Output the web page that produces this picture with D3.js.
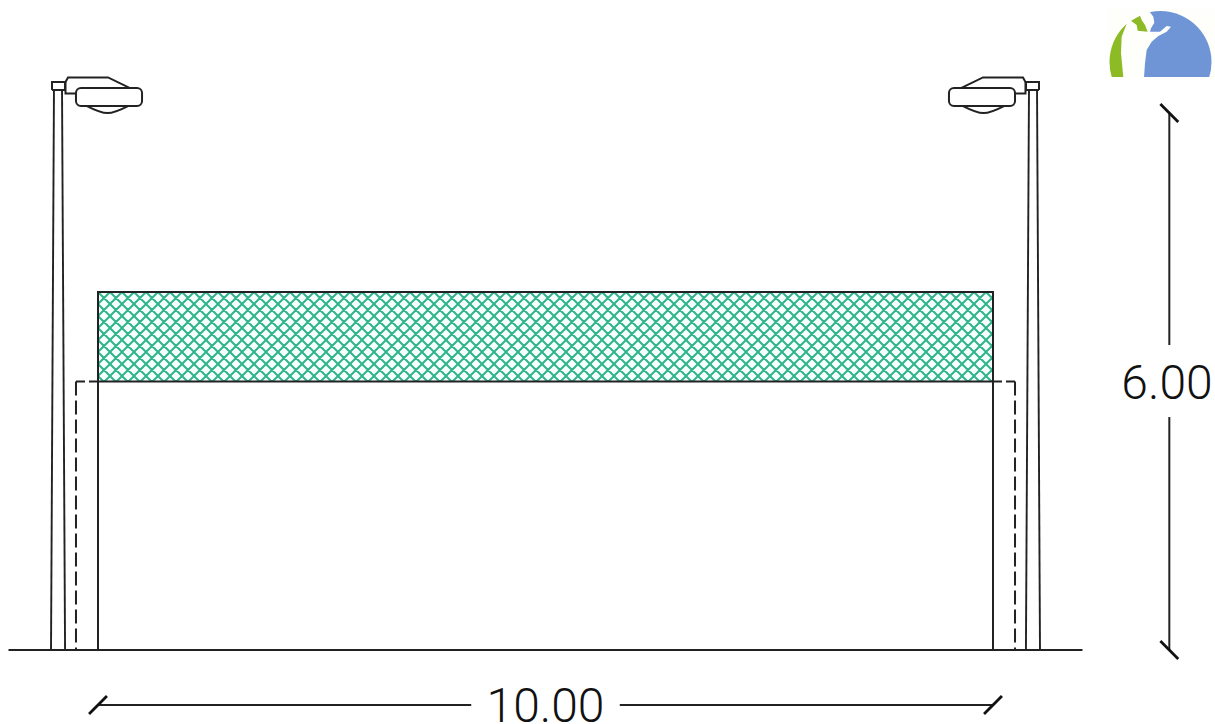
<!DOCTYPE html>
<html>
<head>
<meta charset="utf-8">
<script src="https://cdn.jsdelivr.net/npm/d3@7"></script>
<style>
  html, body { margin: 0; padding: 0; background: #fff; }
  svg { display: block; }
  text { font-family: Roboto, "Liberation Sans", sans-serif; font-weight: 300; fill: #111; }
</style>
</head>
<body>
<div id="chart"></div>
<script>
// everything below is in metres, x from the left fence post, y from the ground
const spanLabel = "10.00";
const heightLabel = "6.00";
const spanEnds = [0, 10];
const heightEnds = [0, 6];
const groundLine = [[-1.0, 0], [11.0, 0]];
const fenceBox = [[0, 0], [0, 4], [10, 4], [10, 0]];
const hatchBox = [[0, 3], [10, 3], [10, 4], [0, 4]];
const dashedTop = [[-0.246, 3], [0, 3]];
const dashedSide = [[-0.246, 3], [-0.246, 0]];
const poleOuter = [[-0.525, 0], [-0.492, 6.257]];
const poleInner = [[-0.368, 0], [-0.402, 6.257]];
const bracket = [[-0.514, 6.257], [-0.514, 6.346], [-0.369, 6.346], [-0.369, 6.257], [-0.514, 6.257]];
const housing = [[-0.363, 6.346], [-0.335, 6.397], [0.112, 6.397], [0.358, 6.279]];
const housingLow = [[-0.363, 6.346], [-0.363, 6.218], [-0.235, 6.218]];
const lens = [[-0.246, 6.279], [0.492, 6.078]];
const lensBelly = [[-0.123, 6.078], [0.106, 6.0], [0.335, 6.078]];
const spanGap = [4.17, 5.83];
const heightGap = [2.603, 3.408];
const spanLevel = -0.615;
const heightLevel = 11.97;

const logoBlueEdge = [[160, 30], [175, 50], [178, 68], [168, 85], [165, 95], [195, 95], [215, 78], [228, 80], [215, 95], [190, 108], [170, 125], [155, 150], [150, 190], [147, 232], [360, 232], [360, 30]];
const logoGreenEdge = [[95, 72], [80, 110], [78, 160], [85, 232], [30, 232], [30, 72]];
const logoGreenBit = [[108, 62], [135, 47], [140, 60], [150, 75], [158, 95], [128, 92], [125, 75]];

const width = 1215, height = 724;
const x = d3.scaleLinear().domain([0, 10]).range([98, 993]);
const y = d3.scaleLinear().domain([0, 6]).range([650, 113]);
const logoX = d3.scaleLinear().domain([0, 300]).range([1095, 1195]);
const logoY = d3.scaleLinear().domain([0, 270]).range([0, 90]);
const ink = "#222";

const svg = d3.select("#chart").append("svg")
    .attr("width", width)
    .attr("height", height);

const defs = svg.append("defs");
const hatch = defs.append("pattern")
    .attr("id", "hatch")
    .attr("patternUnits", "userSpaceOnUse")
    .attr("x", x(0))
    .attr("y", y(4))
    .attr("width", 12)
    .attr("height", 12);
hatch.append("rect")
    .attr("width", 12)
    .attr("height", 12)
    .attr("fill", "#f6fffc");
hatch.append("path")
    .attr("d", "M-1,-1 L13,13 M-1,11 L1,13 M11,-1 L13,1 M13,-1 L-1,13 M1,-1 L-1,1 M13,11 L11,13")
    .attr("stroke", "#2fb48c")
    .attr("stroke-width", 2)
    .attr("fill", "none");

const line = d3.line().x(d => x(d[0])).y(d => y(d[1]));
const curved = d3.line().x(d => x(d[0])).y(d => y(d[1])).curve(d3.curveNatural);
const logoLine = d3.line().x(d => logoX(d[0])).y(d => logoY(d[1])).curve(d3.curveLinearClosed);

function draw(parent, pts, sw, gen) {
    return parent.append("path")
        .attr("d", (gen || line)(pts))
        .attr("fill", "none")
        .attr("stroke", ink)
        .attr("stroke-width", sw || 2);
}

// hatched panel
svg.append("path")
    .attr("d", line(hatchBox) + "Z")
    .attr("fill", "url(#hatch)");

draw(svg, fenceBox, 2);
draw(svg, [[0, 3], [10, 3]], 2.2);
draw(svg, groundLine, 2);

// dashed line and lamp posts, the right side is the left one mirrored about 5 m
[false, true].forEach(flip => {
    const m = pts => flip ? pts.map(p => [10 - p[0], p[1]]) : pts;
    draw(svg, m(dashedTop), 2).attr("stroke-dasharray", "9,4,10");
    draw(svg, m(dashedSide), 2).attr("stroke-dasharray", "14,5");
    draw(svg, m(poleOuter), 1.9);
    draw(svg, m(poleInner), 1.9);
    draw(svg, m(bracket), 2).attr("fill", "#fff");
    draw(svg, m(housing), 2);
    draw(svg, m(housingLow), 2);
    draw(svg, m(lensBelly), 2, curved);
    const lx = m(lens).map(p => x(p[0]));
    svg.append("rect")
        .attr("x", d3.min(lx))
        .attr("y", y(lens[0][1]))
        .attr("width", d3.max(lx) - d3.min(lx))
        .attr("height", y(lens[1][1]) - y(lens[0][1]))
        .attr("rx", 5)
        .attr("fill", "#fff")
        .attr("stroke", ink)
        .attr("stroke-width", 2);
});

// span dimension
const tick = 0.1;
draw(svg, [[spanEnds[0], spanLevel], [spanGap[0], spanLevel]], 2);
draw(svg, [[spanGap[1], spanLevel], [spanEnds[1], spanLevel]], 2);
spanEnds.forEach(v => {
    draw(svg, [[v - tick, spanLevel - tick], [v + tick, spanLevel + tick]], 2.8)
        .attr("stroke", "#111");
});
svg.append("text")
    .attr("x", x(5))
    .attr("y", y(spanLevel) + 16.5)
    .attr("text-anchor", "middle")
    .attr("font-size", 48)
    .text(spanLabel);

// height dimension
draw(svg, [[heightLevel, heightEnds[1]], [heightLevel, heightGap[1]]], 2);
draw(svg, [[heightLevel, heightGap[0]], [heightLevel, heightEnds[0]]], 2);
heightEnds.forEach(v => {
    draw(svg, [[heightLevel - tick, v + tick], [heightLevel + tick, v - tick]], 2.8)
        .attr("stroke", "#111");
});
svg.append("text")
    .attr("x", 1167)
    .attr("y", 399)
    .attr("text-anchor", "middle")
    .attr("font-size", 48)
    .text(heightLabel);

// logo in the corner, a disc cut off at the bottom
svg.append("rect")
    .attr("x", 1108).attr("y", 9).attr("width", 107).attr("height", 68)
    .attr("fill", "#fefefb");
defs.append("clipPath").attr("id", "logoCut").append("rect")
    .attr("x", 1100).attr("y", 0).attr("width", 115).attr("height", 77);
defs.append("clipPath").attr("id", "logoDisc").append("circle")
    .attr("cx", 1160.5).attr("cy", 62).attr("r", 51);
const logo = svg.append("g").attr("clip-path", "url(#logoCut)")
    .append("g").attr("clip-path", "url(#logoDisc)");
logo.append("path").attr("d", logoLine(logoBlueEdge)).attr("fill", "#6f95d6");
logo.append("path").attr("d", logoLine(logoGreenEdge)).attr("fill", "#8dbb25");
logo.append("path").attr("d", logoLine(logoGreenBit)).attr("fill", "#8dbb25");
</script>
</body>
</html>
